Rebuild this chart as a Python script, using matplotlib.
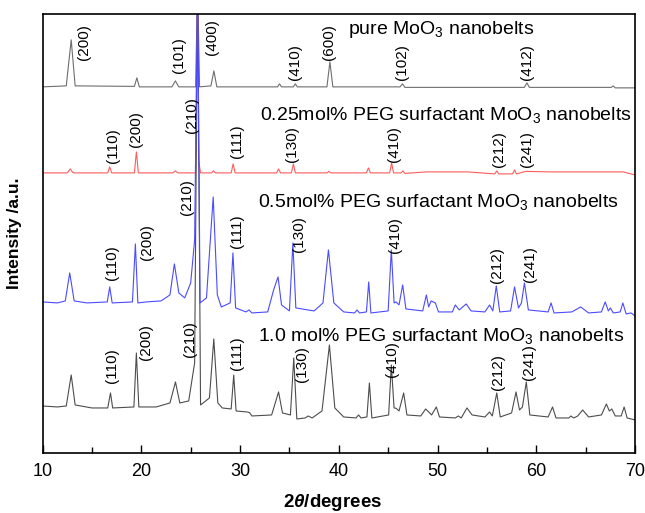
import matplotlib
matplotlib.use("Agg")
import matplotlib.pyplot as plt
from matplotlib.ticker import MultipleLocator

plt.rcParams['font.family'] = ['Liberation Sans', 'DejaVu Sans']
plt.rcParams['mathtext.fontset'] = 'custom'
plt.rcParams['mathtext.rm'] = 'Liberation Sans'
plt.rcParams['mathtext.it'] = 'Liberation Sans:italic:bold'

# 2theta / intensity (a.u.), traces already offset
pure_x = [10.0, 12.4, 12.9, 13.3, 19.3, 19.55, 19.8, 23.1, 23.45, 23.8, 25.5, 25.7, 25.9,
          27.05, 27.35, 27.65, 33.8, 34.0, 34.2, 35.4, 35.6, 35.8, 38.8, 39.1, 39.4,
          46.2, 46.45, 46.7, 58.8, 59.05, 59.3, 67.6, 67.8, 68.0, 70.0]
pure_y = [366, 367, 413, 367, 366.5, 375, 366, 366, 372, 366, 366, 470, 366,
          367, 382, 366, 366, 369, 366, 366, 369, 366, 366, 391, 366,
          366, 369, 365.5, 365.5, 370, 365.5, 365.5, 367, 365, 365]

p025_x = [10.0, 12.5, 12.8, 13.1, 16.6, 16.8, 17.0, 19.3, 19.5, 19.7, 23.2, 23.45, 23.7,
          25.5, 25.7, 25.8, 26.0, 27.1, 27.3, 27.5, 29.1, 29.3, 29.5, 33.7, 33.9, 34.1,
          35.2, 35.4, 35.6, 38.8, 39.0, 39.2, 42.8, 43.0, 43.2, 45.15, 45.35, 45.55,
          46.3, 46.5, 46.7, 48.9, 53.0, 55.8, 56.0, 56.2, 57.6, 57.8, 58.0, 58.9,
          61.6, 67.05, 68.8, 70.0]
p025_y = [280, 280, 284, 280, 280, 286, 280, 280, 301, 280, 280, 282, 280,
          280, 470, 293, 280, 280, 282, 280, 280, 289, 280, 280, 284, 280,
          280, 289, 280, 280, 281.5, 280, 280, 285, 280, 280, 290, 280,
          280, 282, 279.5, 281, 281, 279, 282, 279, 279, 283, 279, 281.5,
          281, 281, 281, 278]

p05_x = [10.0, 11.5, 12.3, 12.75, 13.2, 14.5, 16.55, 16.8, 17.05, 19.1, 19.4, 19.65, 20.5,
         22.0, 22.9, 23.35, 23.8, 24.4, 25.0, 25.4, 25.7, 25.95, 26.6, 27.28, 27.7, 28.1,
         29.0, 29.28, 29.55, 30.6, 30.9, 31.2, 32.8, 33.4, 33.85, 34.2, 35.0, 35.35, 35.65,
         37.5, 38.4, 38.95, 39.5, 40.5, 41.6, 41.85, 42.1, 42.8, 43.03, 43.25, 45.0, 45.32,
         45.6, 45.8, 46.1, 46.47, 46.8, 48.5, 48.87, 49.1, 49.35, 49.78, 50.1, 51.5, 51.8,
         52.2, 52.9, 53.4, 54.8, 55.27, 55.6, 55.95, 56.3, 57.4, 57.8, 58.2, 58.5, 58.8,
         59.2, 61.2, 61.5, 61.8, 63.6, 64.5, 65.3, 66.6, 66.98, 67.3, 67.5, 67.8, 68.5,
         68.77, 69.1, 69.6, 70.0]
p05_y = [151, 150, 152, 180, 152, 150, 151, 166, 150, 151, 209, 150, 151,
         152, 158, 189, 160, 155, 170, 213, 470, 150, 155, 256, 158, 146,
         150, 200, 145, 141, 143, 140, 141, 163, 176, 148, 142, 210, 145,
         142, 150, 203, 150, 141, 140, 143, 140, 141, 171, 140, 142, 203,
         150, 151, 148, 168, 144, 142, 158, 146, 152, 150, 141, 141, 148,
         143, 149, 142, 141, 148, 142, 167, 141, 142, 166, 145, 150, 170,
         143, 141, 150, 140, 141, 146, 140, 141, 151, 142, 145, 140, 141,
         150, 139, 140, 137]

p10_x = [10.0, 11.5, 12.4, 12.9, 13.3, 15.0, 16.6, 16.88, 17.1, 19.25, 19.5, 19.75, 21.5,
         22.9, 23.46, 23.9, 24.8, 25.4, 25.7, 26.0, 26.9, 27.34, 27.75, 28.2, 29.1, 29.36,
         29.6, 30.7, 30.95, 31.2, 33.2, 33.9, 34.3, 35.1, 35.44, 35.75, 36.6, 36.9, 37.3,
         38.3, 39.05, 39.6, 40.5, 41.75, 42.0, 42.25, 42.85, 43.1, 43.35, 45.05, 45.32,
         45.6, 45.8, 46.1, 46.57, 46.9, 48.3, 48.8, 49.1, 49.4, 49.88, 50.2, 51.8, 52.1,
         52.4, 52.98, 53.5, 54.8, 55.27, 55.55, 56.0, 56.35, 57.5, 57.95, 58.3, 58.6,
         58.99, 59.35, 61.2, 61.65, 62.0, 63.3, 63.5, 63.8, 64.2, 64.7, 65.3, 66.6, 67.1,
         67.4, 67.65, 68.0, 68.6, 68.9, 69.2, 69.6, 70.0]
p10_y = [47, 46, 47, 78, 48, 45, 45, 60, 45, 46, 100, 46, 46,
         50, 71, 50, 52, 90, 470, 48, 55, 114, 50, 45, 44, 78,
         42, 41, 40.5, 37, 38, 61, 40, 38, 95, 34, 35, 37, 35,
         42, 108, 45, 36, 35, 38, 35, 36, 70, 35, 38, 88,
         45, 44.7, 42, 60, 38, 37, 44, 41, 38, 46, 36, 35, 37,
         35, 45, 38, 36, 41, 37, 60, 36, 40, 61, 43, 46,
         71, 38, 36, 46, 35, 35, 37, 35, 37, 43, 36, 38, 49,
         42, 44, 37, 37, 46, 35, 34, 33]

# Miller index labels: text, 2theta, bottom of text
pure_hkl = ['(200)', '(101)', '(400)', '(410)', '(600)', '(102)', '(412)']
pure_hkl_x = [14.15, 23.8, 27.17, 35.6, 38.98, 46.4, 59.05]
pure_hkl_y = [393, 380, 398, 373, 393, 373, 373]

p025_hkl = ['(110)', '(200)', '(210)', '(111)', '(130)', '(410)', '(212)', '(241)']
p025_hkl_x = [17.15, 19.5, 25.15, 29.7, 35.3, 45.56, 56.2, 59.05]
p025_hkl_y = [290, 306, 320, 295, 291, 291, 286, 286]

p05_hkl = ['(110)', '(200)', '(210)', '(111)', '(130)', '(410)', '(212)', '(241)']
p05_hkl_x = [17.05, 20.6, 24.65, 29.7, 35.95, 45.73, 56.0, 59.4]
p05_hkl_y = [173, 193, 238, 205, 201, 200, 170, 171]

p10_hkl = ['(110)', '(200)', '(210)', '(111)', '(130)', '(410)', '(212)', '(241)']
p10_hkl_x = [17.0, 20.5, 24.9, 29.67, 36.25, 45.36, 56.16, 59.27]
p10_hkl_y = [70, 93, 96, 83, 71, 76, 63, 73]

names = ['pure MoO$_3$ nanobelts',
         '0.25mol% PEG surfactant MoO$_3$ nanobelts',
         '0.5mol% PEG surfactant MoO$_3$ nanobelts',
         '1.0 mol% PEG surfactant MoO$_3$ nanobelts']
name_x = [40.94, 32.0, 31.8, 31.8]
name_y = [423, 338, 251, 117]


fig = plt.figure(figsize=(6.45, 5.13), dpi=100)
ax = fig.add_axes([0.066, 0.117, 0.9185, 0.856])

ax.plot(pure_x, pure_y, color='#6e6e6e', lw=0.8)
ax.plot(p025_x, p025_y, color='#ff5c5c', lw=0.8)
ax.plot(p10_x, p10_y, color='#4d4d4d', lw=0.8)
ax.plot(p05_x, p05_y, color='#4b4bff', lw=0.8)

for labels, xs, ys in [(pure_hkl, pure_hkl_x, pure_hkl_y),
                       (p025_hkl, p025_hkl_x, p025_hkl_y),
                       (p05_hkl, p05_hkl_x, p05_hkl_y),
                       (p10_hkl, p10_hkl_x, p10_hkl_y)]:
    for t, x, y in zip(labels, xs, ys):
        ax.text(x, y, t, rotation=90, ha='center', va='bottom', fontsize=11)

for t, x, y in zip(names, name_x, name_y):
    ax.text(x, y, t, ha='left', va='center', fontsize=14)

ax.set_xlim(10, 70)
ax.set_ylim(0, 439)
ax.xaxis.set_major_locator(MultipleLocator(10))
ax.xaxis.set_minor_locator(MultipleLocator(5))
ax.tick_params(axis='x', which='major', direction='in', length=6, width=1, labelsize=13, pad=7)
ax.tick_params(axis='x', which='minor', direction='in', length=4, width=1)
ax.set_yticks([])
for s in ax.spines.values():
    s.set_linewidth(1.2)

ax.set_xlabel(r'2$\theta$/degrees', fontsize=13.5, fontweight='bold')
ax.xaxis.set_label_coords(0.49, -0.088)
ax.set_ylabel('Intensity /a.u.', fontsize=12.5, fontweight='bold')
ax.yaxis.set_label_coords(-0.035, 0.5)

fig.savefig('out.png', dpi=100)
